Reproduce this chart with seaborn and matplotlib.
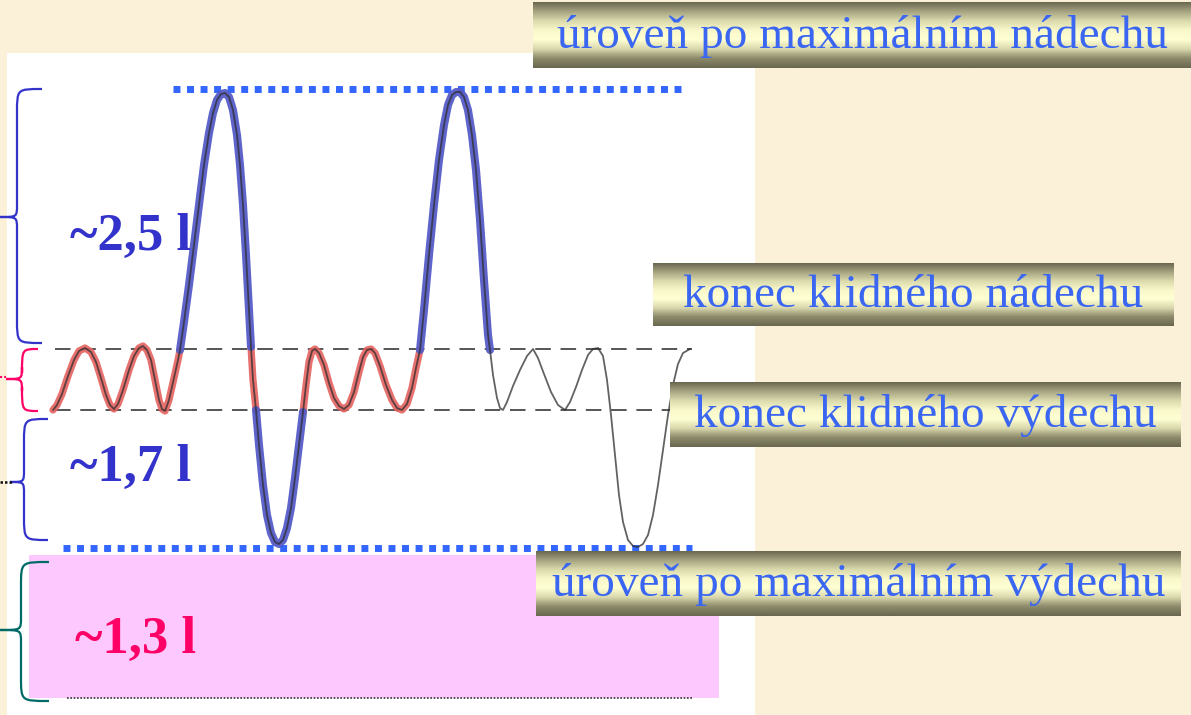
import matplotlib.pyplot as plt
import numpy as np
import pandas as pd
import seaborn as sns
from matplotlib.colors import LinearSegmentedColormap
from matplotlib.patches import PathPatch, Rectangle
from matplotlib.path import Path

# spirogram trace (pixel coords, y grows downward)
trace_x = [53, 57, 62, 68, 74, 79, 85, 91, 96, 101, 106, 110, 114, 118, 123, 129, 134, 139, 143, 147,
           151, 155, 159, 162, 165, 169, 174, 178, 180,
           184, 189, 194, 199, 204, 209, 213, 217, 221, 225, 229, 233, 237, 240, 243, 246, 249, 251,
           253, 256, 259, 263, 267, 271, 275, 279, 283, 287, 291, 295, 299, 303,
           306, 309, 312, 315, 319, 324, 329, 334, 339, 344, 349, 354, 359, 363, 367, 371, 375, 380,
           386, 392, 397, 402, 407, 412, 416, 420,
           424, 429, 434, 439, 444, 448, 452, 456, 460, 464, 468, 472, 476, 480, 484, 488, 490,
           493, 497, 500, 503, 507, 513, 520, 527, 533, 538, 544, 551, 558, 565, 570, 576, 582, 588,
           593, 598, 603, 607, 611, 615, 619, 623, 628, 633, 638, 643, 648, 653, 658, 663, 668, 673,
           678, 683, 690]
trace_y = [410, 405, 394, 376, 360, 351, 348, 352, 362, 378, 395, 405, 409, 404, 390, 370, 356, 348, 346, 350,
           360, 380, 400, 409, 411, 400, 378, 360, 350,
           322, 285, 245, 205, 165, 133, 113, 100, 94, 93, 97, 110, 135, 165, 205, 255, 310, 347,
           380, 410, 445, 485, 515, 533, 542, 544, 540, 528, 508, 478, 445, 412,
           385, 362, 351, 349, 353, 365, 383, 398, 406, 409, 405, 392, 372, 357, 350, 349, 353, 366,
           385, 400, 408, 410, 404, 388, 368, 350,
           310, 255, 205, 160, 125, 105, 95, 92, 92, 97, 110, 135, 170, 220, 280, 335, 350,
           375, 398, 408, 410, 402, 386, 370, 356, 349, 358, 374, 392, 405, 410, 402, 387, 370, 355,
           349, 348, 356, 380, 415, 455, 495, 522, 540, 546, 547, 544, 535, 515, 485, 450, 415, 385,
           364, 353, 349]

# which parts of the trace are highlighted
red_spans = [(53, 180), (251, 256), (303, 420)]
blue_spans = [(180, 251), (256, 303), (420, 490)]

# levels
y_max_in = 89
y_tid_in = 349
y_tid_ex = 410
y_max_ex = 548
y_residual = 698

level_labels = ["úroveň po maximálním nádechu", "konec klidného nádechu",
                "konec klidného výdechu", "úroveň po maximálním výdechu"]
volume_labels = ["~2,5 l", "~1,7 l", "~1,3 l"]

W, H = 1191, 715

sns.set_theme(style="white")
plt.rcParams["font.family"] = ["Liberation Serif", "DejaVu Serif"]

bg = "#FBF0D8"
fig = plt.figure(figsize=(W / 100, H / 100), dpi=100, facecolor=bg)
ax = fig.add_axes([0, 0, 1, 1])
ax.set_facecolor(bg)

# white sheet + pink residual block
ax.add_patch(Rectangle((7, 53), 748, 662, facecolor="white", edgecolor="none", zorder=0))
ax.add_patch(Rectangle((29, 555), 690, 143, facecolor="#FDC8FD", edgecolor="none", zorder=0.5))

df = pd.DataFrame({"x": trace_x, "y": trace_y})


def pick(spans):
    return [df[(df.x >= a) & (df.x <= b)] for a, b in spans]


for part in pick(red_spans):
    sns.lineplot(data=part, x="x", y="y", ax=ax, color="#E4625F", lw=5.2, alpha=0.9,
                 sort=False, estimator=None, solid_capstyle="round", zorder=3)
for part in pick(blue_spans):
    sns.lineplot(data=part, x="x", y="y", ax=ax, color="#555CC8", lw=5.8, alpha=0.95,
                 sort=False, estimator=None, solid_capstyle="round", zorder=3)
sns.lineplot(data=df, x="x", y="y", ax=ax, color="#2E2E2E", lw=1.3, alpha=0.75,
             sort=False, estimator=None, zorder=4)

# reference levels
ax.hlines([y_tid_in, y_tid_ex], 55, 692, colors="#555555", lw=1.4,
          linestyles=(0, (8, 5)), zorder=2)
ax.hlines(y_max_in, 173, 683, colors="#3366FF", lw=5, linestyles=(0, (1, 0.95)), zorder=2)
ax.hlines(y_max_ex, 63, 692, colors="#3366FF", lw=5, linestyles=(0, (1, 0.95)), zorder=2)
ax.hlines(y_residual, 67, 693, colors="#333333", lw=1.2, linestyles=(0, (1, 1)), zorder=2)


def brace(x_end, x_mid, x_tip, y0, y1, yc, color):
    r = 24
    r2 = 12
    verts = [(x_end, y0), (x_mid, y0), (x_mid, y0), (x_mid, y0 + r),
             (x_mid, yc - r2), (x_mid, yc), (x_mid, yc), (x_tip, yc),
             (x_mid, yc), (x_mid, yc), (x_mid, yc + r2),
             (x_mid, y1 - r), (x_mid, y1), (x_mid, y1), (x_end, y1)]
    codes = [Path.MOVETO, Path.CURVE4, Path.CURVE4, Path.CURVE4,
             Path.LINETO, Path.CURVE4, Path.CURVE4, Path.CURVE4,
             Path.CURVE4, Path.CURVE4, Path.CURVE4,
             Path.LINETO, Path.CURVE4, Path.CURVE4, Path.CURVE4]
    ax.add_patch(PathPatch(Path(verts, codes), facecolor="none", edgecolor=color, lw=1.6, zorder=5))


brace(42, 17, 0, y_max_in, 343, 217, "#3333CC")
brace(38, 22, 6, y_tid_in, 411, 379, "#FF0066")
brace(48, 24, 10, 419, 540, 482, "#3333CC")
brace(49, 21, 0, 562, 701, 630, "#006B66")
ax.hlines(377, 0, 6, colors="#FF0066", lw=1.5, linestyles=(0, (1, 1)), zorder=5)
ax.hlines(482, 0, 12, colors="#111111", lw=1.8, linestyles=(0, (1, 0.8)), zorder=5)

# volume labels
ax.text(70, 237, volume_labels[0], color="#3333CC", fontsize=38, fontweight="bold",
        va="center", ha="left", zorder=6)
ax.text(70, 468, volume_labels[1], color="#3333CC", fontsize=38, fontweight="bold",
        va="center", ha="left", zorder=6)
ax.text(75, 640, volume_labels[2], color="#FF0066", fontsize=38, fontweight="bold",
        va="center", ha="left", zorder=6)

# olive gradient label boxes
cmap = LinearSegmentedColormap.from_list(
    "olive", ["#6C6952", "#A9A783", "#DCDBAE", "#F8F8CA", "#FFFFD4", "#D9D8AC", "#8E8C6C", "#6A6850"])
grad = np.linspace(0, 1, 64).reshape(-1, 1)
boxes = [(533, 1191, 2, 68), (653, 1174, 263, 326), (670, 1181, 382, 447), (536, 1181, 551, 616)]
for (x0, x1, y0, y1), lab in zip(boxes, level_labels):
    ax.imshow(grad, cmap=cmap, extent=(x0, x1, y1, y0), aspect="auto", origin="upper",
              interpolation="bilinear", zorder=7)
    ax.text((x0 + x1) / 2, (y0 + y1) / 2 + 1, lab, color="#3A66F2", fontsize=34,
            ha="center", va="center", zorder=8)

ax.set_xlim(0, W)
ax.set_ylim(H, 0)
ax.axis("off")
fig.savefig("out.png", dpi=100, facecolor=fig.get_facecolor())
